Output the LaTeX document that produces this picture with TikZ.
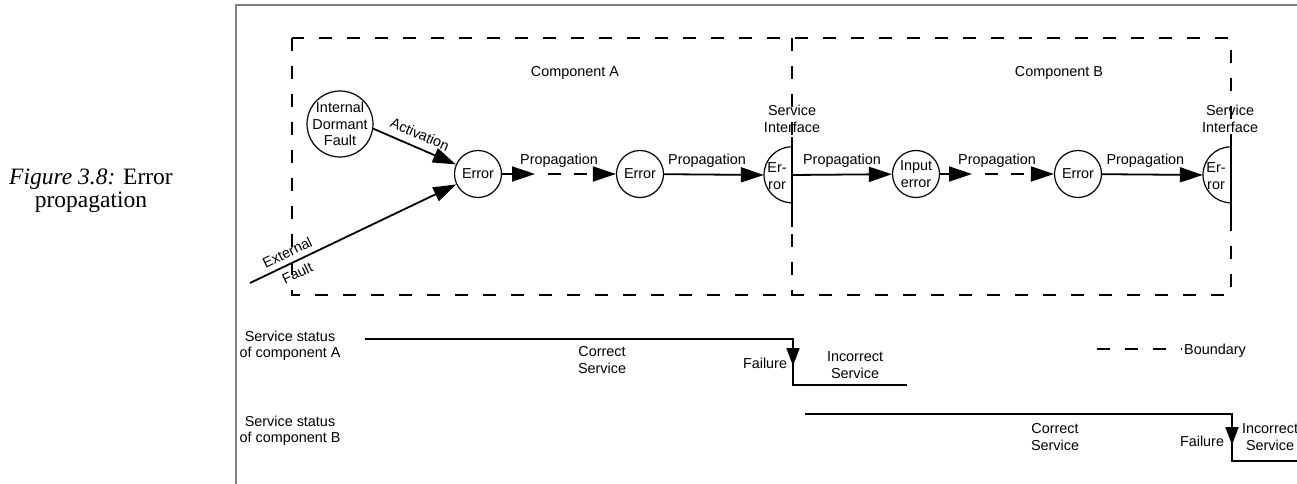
\documentclass[tikz,border=0pt]{standalone}
\usepackage{fontspec}
\setsansfont{Liberation Sans}
\newfontfamily\capfont{Liberation Serif}
\usetikzlibrary{calc}
\usetikzlibrary{arrows.meta}

\tikzset{
  errnode/.style={circle,draw,line width=1.2pt,minimum size=47pt,inner sep=0pt,align=center},
  prop/.style={line width=1.8pt,-{Triangle[length=23pt,width=15pt]}},
  fail/.style={line width=1.8pt,-{Triangle[length=18pt,width=13pt]}},
  boundary/.style={line width=1.3pt,dash pattern=on 13pt off 15pt},
  status/.style={line width=1.8pt},
}

\begin{document}
\begin{tikzpicture}[x=1pt,y=-1pt,font=\sffamily\fontsize{14.4}{16.5}\selectfont]
\useasboundingbox (0,0) rectangle (1297,484);

% frame and caption
\draw[gray,line width=2pt] (236,490) -- (236,5) -- (1300,5);
\node[font=\capfont\fontsize{23.5}{23}\selectfont,align=center] (cap) at (91,191) {\textit{Figure 3.8:} Error\\propagation};

% component boundaries
\draw[boundary] (292,38) rectangle (1231,295);
\draw[boundary] (792,38) -- (792,295);
\node (compA) at (575,73) {Component A};
\node (compB) at (1059,73) {Component B};

% service interfaces
\coordinate (ifAtop) at (792,137);
\coordinate (ifAbot) at (792,227);
\coordinate (ifBtop) at (1231,137);
\coordinate (ifBbot) at (1231,229);
\draw[line width=1.8pt] (ifAtop) -- (ifAbot);
\draw[line width=1.8pt] (ifBtop) -- (ifBbot);
\node[align=center] (sifA) at (792,119) {Service\\Interface};
\node[align=center] (sifB) at (1230,119) {Service\\Interface};

\node[circle,minimum size=56pt,inner sep=0pt] (ifA) at (792,175) {};
\node[circle,minimum size=56pt,inner sep=0pt] (ifB) at (1231,175) {};
\draw[line width=1.2pt] (ifA.north) arc[start angle=90,end angle=270,radius=28pt];
\draw[line width=1.2pt] (ifB.north) arc[start angle=90,end angle=270,radius=28pt];
\node[align=center,inner sep=0pt] (erA) at (777,176) {Er-\\ror};
\node[align=center,inner sep=0pt] (erB) at (1216,176) {Er-\\ror};

% errors
\node[errnode,minimum size=66pt,inner sep=-3pt] (intF) at (340,124) {Internal\\Dormant\\Fault};
\node[errnode] (err1) at (478,174) {Error};
\node[errnode] (err2) at (640,174) {Error};
\node[errnode] (inB) at (916,174) {Input\\error};
\node[errnode] (errB) at (1078,174) {Error};
\coordinate (extF) at (250,283);
\coordinate (m1) at (535,174);
\coordinate (m2) at (972,174);

\draw[prop] (intF.-8) -- (err1) node[midway,above=4pt,sloped] {Activation};
\draw[prop] (extF) -- (err1)
  node[pos=.205,above=2pt,sloped] {External}
  node[pos=.205,below=2pt,sloped] {Fault};
\draw[prop] (err1) -- (m1);
\draw[prop,dash pattern=on 13pt off 13pt,dash phase=13pt] (m1) -- (err2);
\path (err1) -- (err2) node[midway,above=2.7pt] {Propagation};
\draw[prop] (err2) -- (ifA.west) node[pos=.43,above=2.7pt] {Propagation};
\draw[prop] (ifA.center) -- (inB) node[midway,above=2.7pt] {Propagation};
\draw[prop] (inB) -- (m2);
\draw[prop,dash pattern=on 13pt off 13pt,dash phase=13pt] (m2) -- (errB);
\path (inB) -- (errB) node[midway,above=2.7pt] {Propagation};
\draw[prop] (errB) -- (ifB.west) node[pos=.43,above=2.7pt] {Propagation};

% legend
\coordinate (bndL) at (1097,349);
\coordinate (bndR) at (1182,349);
\draw[boundary] (bndL) -- (bndR);
\node[anchor=west,inner sep=2pt] (bndT) at ($(bndR)+(0,1.5)$) {Boundary};

% service status of A
\coordinate (aStart) at (365,339);
\coordinate (aFail) at (793,339);
\coordinate (aTip) at (793,366);
\coordinate (aLow) at (793,385);
\coordinate (aEnd) at (907,385);
\draw[status] (aStart) -- (aFail) -- (aLow) -- (aEnd);
\draw[fail] (aFail) -- (aTip);
\node[align=center] (statA) at (290,346) {Service status\\of component A};
\node[align=center] (corrA) at (602,360) {Correct\\Service};
\node (failA) at (765,363) {Failure};
\node[align=center] (incA) at (855,365) {Incorrect\\Service};

% service status of B
\coordinate (bStart) at (805,414);
\coordinate (bFail) at (1232,414);
\coordinate (bTip) at (1232,445);
\coordinate (bLow) at (1232,461);
\coordinate (bEnd) at (1300,461);
\draw[status] (bStart) -- (bFail) -- (bLow) -- (bEnd);
\draw[fail] (bFail) -- (bTip);
\node[align=center] (statB) at (290,431) {Service status\\of component B};
\node[align=center] (corrB) at (1055,437) {Correct\\Service};
\node (failB) at (1202,441) {Failure};
\node[align=center] (incB) at (1270,437) {Incorrect\\Service};

\end{tikzpicture}
\end{document}
